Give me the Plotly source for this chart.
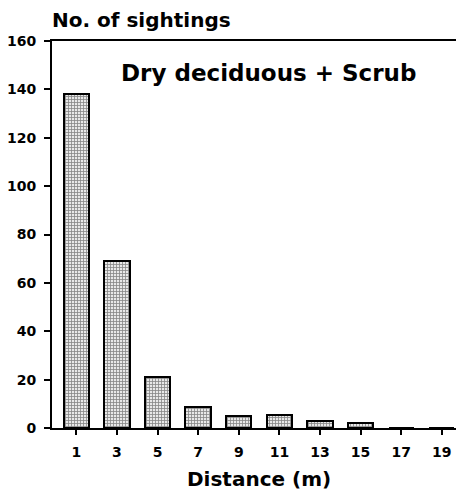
import plotly.graph_objects as go

distance = [1, 3, 5, 7, 9, 11, 13, 15, 17, 19]
sightings = [138, 69, 21, 8.5, 5, 5.5, 3, 2, 0, 0]
y_ticks = [0, 20, 40, 60, 80, 100, 120, 140, 160]

FONT = "DejaVu Sans, Verdana, sans-serif"

fig = go.Figure(go.Bar(
    x=distance, y=sightings, width=1.25,
    marker=dict(
        color="#888888",
        line=dict(color="black", width=2),
        pattern=dict(shape="+", fgcolor="#222222", bgcolor="#e8e8e8", size=3, solidity=0.45),
    ),
))

fig.update_layout(
    width=456, height=493,
    margin=dict(l=52, r=0, t=41, b=65),
    plot_bgcolor="white", paper_bgcolor="white",
    showlegend=False,
    font=dict(family=FONT, color="black", size=13),
    bargap=0,
)
fig.update_xaxes(
    range=[-0.2, 19.7], tickvals=distance, ticktext=[str(d) for d in distance],
    showline=True, linecolor="black", linewidth=2, mirror=True,
    ticks="outside", ticklen=5, tickwidth=1.5, tickcolor="black",
    showgrid=False, zeroline=False, automargin=False, ticklabelstandoff=5,
    tickfont=dict(family=FONT, size=14, color="black", weight="bold"),
)
fig.update_yaxes(
    range=[0, 160], tickvals=y_ticks,
    showline=True, linecolor="black", linewidth=2,
    ticks="outside", ticklen=6, tickwidth=1.5, tickcolor="black",
    showgrid=False, zeroline=False, automargin=False, ticklabelstandoff=5,
    tickfont=dict(family=FONT, size=14, color="black", weight="bold"),
)

fig.add_annotation(text="<b>No. of sightings</b>", xref="paper", yref="paper",
                   x=-0.005, y=1.054, xanchor="left", yanchor="middle", showarrow=False,
                   font=dict(family=FONT, size=20, color="black"))
fig.add_annotation(text="<b>Dry deciduous + Scrub</b>", xref="paper", yref="paper",
                   x=0.537, y=0.918, xanchor="center", yanchor="middle", showarrow=False,
                   font=dict(family=FONT, size=23, color="black"))
fig.add_annotation(text="<b>Distance (m)</b>", xref="paper", yref="paper",
                   x=0.512, y=-0.132, xanchor="center", yanchor="middle", showarrow=False,
                   font=dict(family=FONT, size=20, color="black"))

fig.write_html("out.html", config={"displayModeBar": False},
               post_script="document.body.style.margin='0';document.body.style.overflow='hidden';")
